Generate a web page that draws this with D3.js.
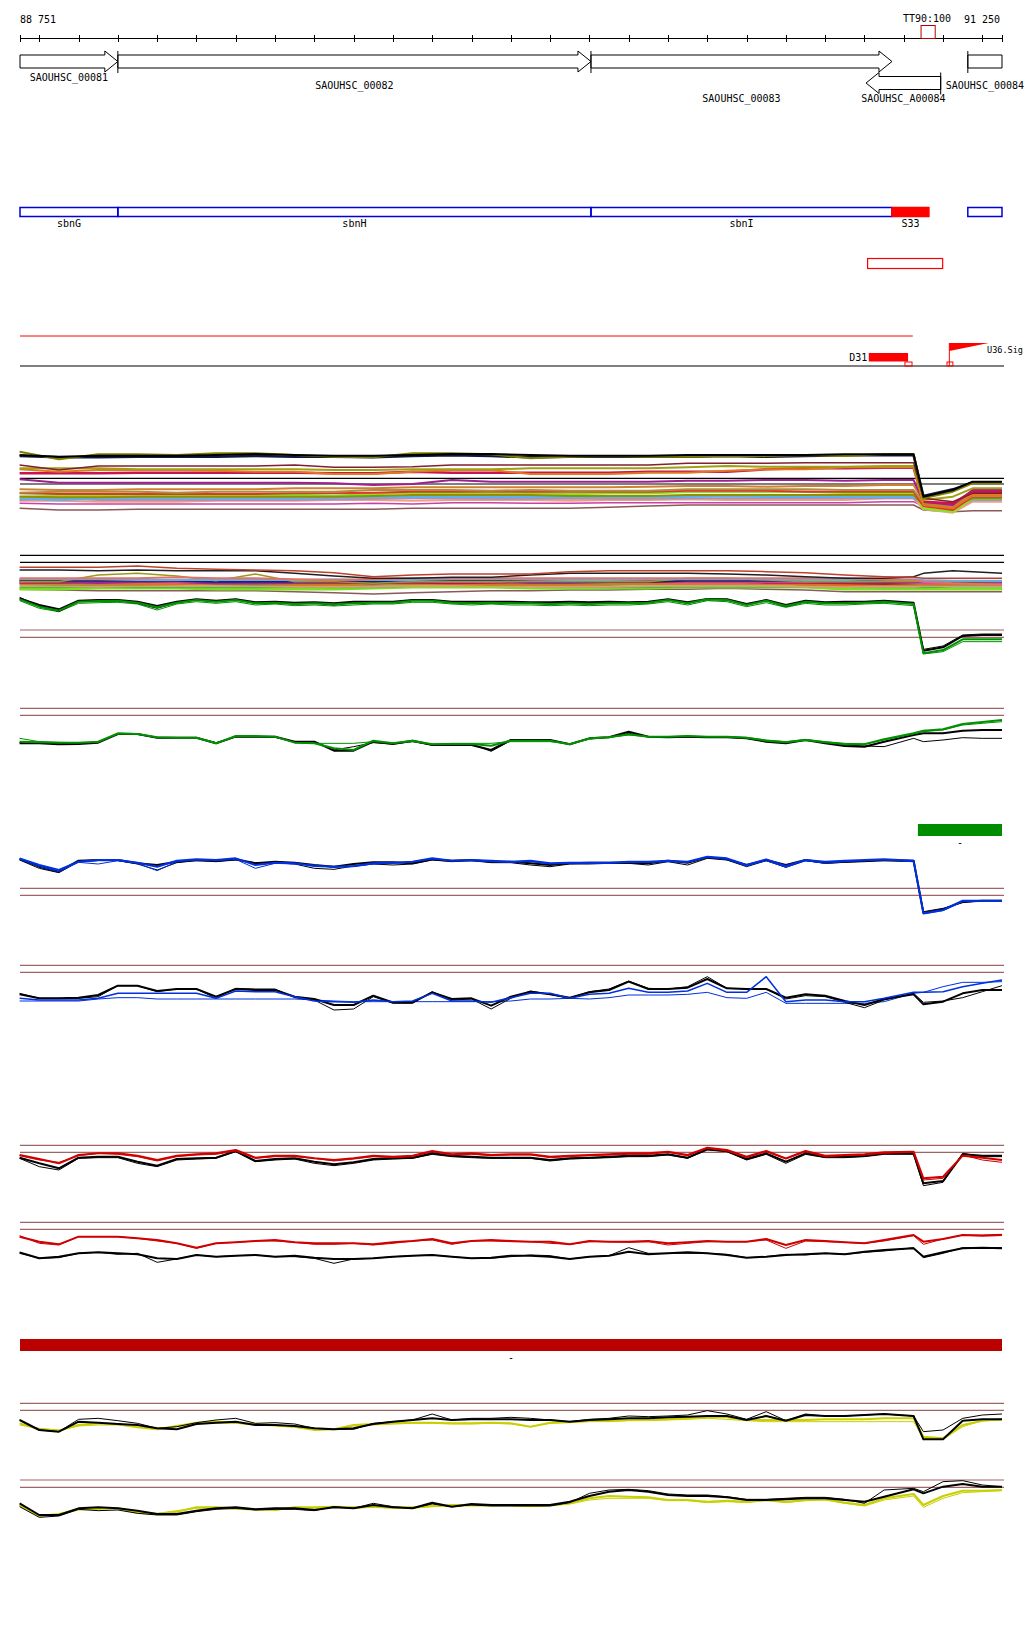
<!DOCTYPE html>
<html>
<head>
<meta charset="utf-8">
<script src="https://cdn.jsdelivr.net/npm/d3@7"></script>
<style>
body { margin: 0; background: #fff; }
svg { display: block; font-family: "DejaVu Sans Mono", monospace; font-size: 10px; }
</style>
</head>
<body>
<svg id="chart" width="1024" height="1640"></svg>
<script>
/* view */
var viewStart = 88751, viewEnd = 91250;
var rulerTicks = [88751, 88800, 88900, 89000, 89100, 89200, 89300, 89400, 89500, 89600, 89700, 89800, 89900,
  90000, 90100, 90200, 90300, 90400, 90500, 90600, 90700, 90800, 90900, 91000, 91100, 91200, 91250];
var rulerLabels = ['88 751', '91 250'];
var markerName = 'TT90:100', markerStart = 91044, markerEnd = 91080;

/* genes */
var geneNames = ['SAOUHSC_00081', 'SAOUHSC_00082', 'SAOUHSC_00083', 'SAOUHSC_A00084', 'SAOUHSC_00084'];
var geneStart = [88700, 89000, 90204, 90904, 91163];
var geneEnd = [89000, 90204, 90970, 91094, 91400];
var geneStrand = [1, 1, 1, -1, 1];
var geneLane = [0, 0, 0, 1, 0];
var geneLabelRow = [0, 1, 2, 2, 1];

/* annotation track */
var annNames = ['sbnG', 'sbnH', 'sbnI', 'S33', ''];
var annStart = [88700, 89000, 90204, 90970, 91163];
var annEnd = [89000, 90204, 90970, 91064, 91400];
var annKind = ['cds', 'cds', 'cds', 'srna', 'cds'];
var regionStart = 90908, regionEnd = 91099;
var segStart = 88751, segEnd = 91023;
var featNames = ['D31', 'U36.Sig'];
var featStart = [90911, 91116];
var featEnd = [91011, 91216];
var featKind = ['block', 'flag'];
var siteStart = [91003, 91110];
var siteEnd = [91021, 91125];

/* bars */
var greenBarStart = 91036, greenBarEnd = 91250;
var redBarStart = 88751, redBarEnd = 91250;

/* sample positions */
var posFine = d3.range(88750, 90951, 50).concat([91025], d3.range(91050, 91251, 50));
var posCoarse = [88750, 88850, 88950, 89050, 89150, 89250, 89350, 89450, 89550, 89650, 89750, 89850, 89950,
  90050, 90150, 90250, 90350, 90450, 90550, 90650, 90750, 90850, 90950, 91025, 91050, 91125, 91175, 91250];

/* panel A: many conditions */
var aRef = [11.5, 9.8];
var a01 = [18.5,18.0,18.3,18.3,18.3,18.5,18.8,18.5,18.3,18.3,18.5,18.8,18.8,18.5,18.3,18.3,18.3,18.5,18.5,18.5,18.5,18.7,18.7,18.7,6.0,8.0,10.5,10.5];
var a02 = [19.5,17.2,18.7,18.7,18.5,19.0,19.0,18.5,18.0,17.8,19.0,19.0,18.7,17.5,18.0,18.2,18.0,18.0,18.2,18.2,18.5,18.2,18.8,18.8,5.5,7.5,10.0,10.0];
var a03 = [18.2,17.8,17.8,18.0,18.0,18.0,18.2,18.0,18.0,17.8,18.2,18.4,18.2,17.8,18.0,18.0,18.0,18.0,18.2,18.0,18.2,18.4,18.4,18.4,6.2,8.2,10.2,10.2];
var a04 = [15.5,14.0,15.2,15.2,15.2,15.2,15.2,15.5,14.8,14.8,15.0,15.5,15.5,15.5,15.5,15.5,15.5,16.0,16.0,16.0,16.2,16.2,16.2,16.2,5.5,4.5,7.0,7.0];
var a05 = [13.0,13.0,13.0,13.2,13.2,13.2,13.2,13.2,13.0,13.0,13.5,13.2,13.2,13.2,13.2,13.2,13.5,13.5,13.5,14.2,14.5,14.5,14.7,14.7,4.5,4.0,7.5,7.5];
var a06 = [14.2,13.5,14.0,14.0,14.0,13.8,13.5,13.5,12.8,12.8,13.5,14.0,14.0,12.8,12.8,12.8,13.2,13.2,13.8,14.2,14.2,14.8,14.8,14.8,3.5,2.5,6.5,6.5];
var a07 = [14.5,14.5,14.5,14.2,14.2,14.2,14.2,14.2,14.0,14.0,14.2,14.2,14.2,14.5,14.5,14.5,14.5,14.8,15.2,15.0,15.0,15.0,15.2,15.2,5.0,6.0,8.5,8.5];
var a08 = [11.2,10.2,10.2,10.2,10.2,10.2,10.2,10.2,10.0,9.5,9.8,11.0,10.5,10.5,10.5,10.5,10.5,10.8,10.8,11.0,11.0,10.8,11.0,11.0,4.5,3.5,8.0,8.0];
var a09 = [8.2,8.0,8.0,8.2,8.2,8.2,8.2,8.5,8.5,8.5,8.8,8.8,8.8,8.8,8.8,8.8,9.0,9.2,9.2,9.0,9.2,9.2,9.5,9.5,4.5,3.0,7.0,7.0];
var a10 = [6.0,6.2,6.2,6.5,6.5,6.2,6.5,6.5,6.2,6.8,7.2,7.0,6.8,7.0,6.8,7.0,7.0,7.5,7.5,7.5,7.5,7.2,7.2,7.2,2.5,1.5,5.5,5.5];
var a11 = [5.5,5.0,5.5,5.5,5.5,5.5,5.5,5.5,5.7,6.0,6.0,6.0,6.0,6.0,6.0,6.0,6.0,6.0,6.2,6.0,6.0,6.0,6.0,6.0,4.0,3.5,5.2,5.2];
var a12 = [4.8,4.8,4.5,4.5,4.5,4.8,4.8,4.8,5.0,5.0,4.8,5.0,5.0,5.0,4.8,5.0,5.0,5.2,5.0,5.0,5.0,5.0,5.5,5.5,2.2,1.2,4.5,4.5];
var a13 = [4.0,3.8,3.8,3.8,3.8,3.8,3.8,3.8,3.8,4.0,3.8,4.2,4.2,4.0,4.0,4.2,4.2,4.2,4.2,4.2,4.2,4.2,4.5,4.5,3.0,2.5,4.8,4.8];
var a14 = [2.5,2.0,2.0,2.2,2.2,2.2,2.2,2.2,2.2,2.2,2.5,2.5,2.5,2.5,2.5,2.8,3.2,3.5,3.5,3.5,3.5,3.5,3.5,3.5,2.0,1.5,1.8,1.8];
var a15 = [7.2,7.5,7.5,7.5,7.2,7.5,7.5,7.5,7.5,8.0,8.0,8.0,7.8,8.0,7.8,7.8,7.8,8.2,8.2,8.2,8.2,8.0,8.0,8.0,4.0,2.8,6.2,6.2];
var a16 = [5.0,5.5,5.0,5.0,5.0,5.0,5.0,5.0,5.2,5.4,5.5,5.5,5.4,5.4,5.4,5.4,5.4,5.5,5.5,5.5,5.5,5.5,5.5,5.5,3.5,2.0,5.0,5.0];
var a17 = [7.0,6.8,6.8,6.8,6.8,6.8,6.8,7.0,7.0,7.2,7.5,7.5,7.5,7.5,7.5,7.5,7.5,7.8,7.8,7.8,7.5,7.5,7.5,7.5,3.2,2.0,6.0,6.0];
var a18 = [6.0,5.8,5.8,6.0,6.0,6.0,6.0,6.0,6.0,6.2,6.5,6.5,6.5,6.5,6.2,6.2,6.2,6.5,6.5,6.5,6.5,6.5,6.5,6.5,3.5,3.0,5.5,5.5];

/* panel B: many conditions + growth pair */
var bTopRef = [30.4, 28.3];
var bRef = [8.0, 5.8];
var b01 = [26.8,26.8,26.8,27.2,26.5,26.2,26.0,25.8,25.2,24.0,24.5,24.8,24.8,24.8,25.5,25.8,25.8,25.8,25.8,25.5,25.2,24.5,24.0,23.8,23.5,23.5,23.5,23.5];
var b02 = [26.0,26.0,25.8,26.0,25.8,25.8,25.8,25.0,24.2,23.5,23.5,23.8,23.8,24.5,25.0,25.0,25.0,25.0,24.8,24.5,24.0,23.5,23.5,24.0,25.0,25.8,25.5,25.0];
var b03 = [22.5,22.5,24.5,25.0,24.2,22.8,24.8,22.5,22.5,22.0,22.5,22.5,22.5,22.5,22.5,22.5,22.5,23.5,23.5,23.0,22.5,22.5,22.5,22.5,22.5,22.5,22.5,22.5];
var b04 = [22.8,22.5,22.2,22.5,22.5,22.0,22.0,22.2,22.5,22.0,22.5,22.8,22.5,22.2,22.2,22.5,22.5,22.5,22.5,22.5,22.8,22.5,22.5,22.5,22.5,22.5,22.5,22.5];
var b05 = [22.0,22.2,22.0,21.8,21.8,22.2,22.2,21.8,21.8,22.2,22.0,22.0,21.8,21.8,21.8,22.0,22.0,22.0,22.2,22.0,21.8,21.5,22.0,22.0,21.8,21.8,22.0,22.0];
var b06 = [23.2,23.2,23.2,23.0,23.0,23.0,23.0,23.0,23.2,23.0,23.0,23.2,23.2,23.2,23.0,23.0,23.2,23.2,23.2,23.2,23.0,23.0,23.2,23.2,23.0,22.8,22.8,22.8];
var b07 = [20.2,20.2,20.5,20.5,20.5,20.2,20.2,20.2,20.2,20.5,20.8,20.8,20.8,20.5,20.5,20.5,20.5,20.8,20.8,20.8,20.8,20.2,20.2,20.2,20.2,20.2,20.2,20.2];
var b08 = [20.2,20.0,19.8,19.8,19.8,19.8,19.8,19.5,19.2,18.8,19.2,19.5,19.8,19.8,20.0,20.0,20.2,20.2,20.5,20.2,20.0,19.5,19.5,19.5,19.5,19.5,19.5,19.5];
var b09 = [21.2,21.2,21.0,21.2,21.2,21.2,21.2,21.0,21.0,21.0,21.2,21.2,21.2,21.0,21.0,21.0,21.2,21.2,21.2,21.2,21.0,21.0,21.0,21.0,21.2,21.2,21.2,21.2];
var b10 = [22.2,22.2,22.5,22.5,22.5,22.5,22.5,22.2,22.2,22.2,22.2,22.0,22.2,22.5,22.5,22.5,22.5,22.5,22.5,22.2,22.2,22.0,21.8,22.0,22.2,22.2,22.2,22.2];
var b11 = [20.8,20.8,21.0,20.8,20.8,20.8,20.8,21.0,20.8,20.8,21.2,21.2,21.2,21.2,21.0,20.8,20.8,21.0,21.0,21.0,21.0,21.0,20.8,20.8,20.8,21.0,21.0,21.0];
var b12 = [22.5,22.8,22.8,22.8,22.5,22.8,22.5,22.5,22.8,22.8,22.8,22.5,22.5,22.8,22.8,22.8,22.8,22.5,22.5,22.5,22.5,22.8,22.5,22.2,22.0,22.0,22.0,22.0];
var b13 = [23.0,22.8,22.8,22.8,22.8,22.5,22.5,22.5,22.5,22.5,23.0,22.8,22.8,22.5,22.5,22.5,22.5,22.8,22.8,22.8,22.8,22.8,22.5,22.5,22.5,22.5,22.5,22.5];
var b14 = [21.8,21.5,21.5,21.5,21.8,21.8,21.5,21.5,21.5,21.5,21.8,21.8,21.5,21.5,21.5,21.5,21.8,21.8,21.8,21.8,21.5,21.5,21.5,21.5,21.5,21.5,21.5,21.5];
var b15 = [23.5,23.5,23.5,23.5,23.8,23.5,23.5,23.2,23.0,23.2,23.5,23.5,23.5,23.5,23.5,23.5,23.5,23.5,23.5,23.5,23.5,23.5,23.2,23.0,22.5,22.0,21.8,21.5];
var bGreen1 = [17.2,15.0,13.8,16.5,16.7,16.8,16.2,14.8,16.2,17.0,16.5,17.0,16.0,16.2,15.8,16.0,15.7,16.0,16.2,16.2,
  16.8,16.8,16.2,16.0,16.2,16.0,16.0,15.8,16.0,15.8,16.0,16.0,16.2,17.0,16.0,17.2,17.0,15.5,16.8,15.2,
  16.5,16.0,16.0,16.2,16.5,15.8,1.0,2.0,5.2,5.2,5.2];
var bGreen2 = [16.8,14.5,13.5,16.0,16.2,16.3,15.8,14.0,15.8,16.5,16.0,16.5,15.5,15.8,15.3,15.5,15.2,15.5,15.8,15.8,
  16.3,16.3,15.8,15.5,15.8,15.5,15.5,15.3,15.5,15.3,15.5,15.5,15.8,16.5,15.5,16.8,16.5,15.0,16.2,14.8,
  16.0,15.5,15.5,15.8,16.0,15.3,0.8,1.5,4.5,4.5,4.5];
var bBlack1 = [17.5,15.5,14.2,16.8,17.0,17.0,16.5,15.2,16.5,17.2,16.8,17.2,16.3,16.5,16.2,16.3,16.0,16.5,16.5,16.5,
  17.0,17.0,16.5,16.5,16.5,16.5,16.3,16.3,16.5,16.3,16.5,16.3,16.5,17.2,16.3,17.3,17.2,15.8,17.0,15.5,
  16.8,16.3,16.5,16.5,16.8,16.2,1.8,2.8,6.2,6.5,6.5];
var bBlack2 = [17.8,15.2,13.5,16.5,16.8,16.8,16.0,14.5,16.2,17.0,16.5,17.2,16.0,16.2,15.8,16.0,15.5,16.2,16.3,16.2,
  17.0,16.8,16.2,16.2,16.3,16.0,16.0,15.8,16.0,15.8,16.2,16.0,16.2,17.2,16.0,17.3,17.0,15.5,16.8,15.0,
  16.5,16.0,16.2,16.3,16.5,16.0,2.2,3.2,6.5,6.8,6.8];

/* panel C */
var cRef = [13.5, 11.4];
var cGreen1 = [3.5,3.3,3.2,3.2,3.5,6.0,5.8,4.8,4.7,4.7,3.0,5.2,5.2,5.0,3.2,3.0,1.5,1.0,3.8,3.0,
  3.8,2.7,2.8,2.8,2.3,3.8,3.8,3.8,2.7,4.5,4.8,5.7,5.0,5.0,5.2,5.0,5.0,4.7,3.8,3.3,
  4.0,3.3,2.7,2.7,4.2,6.0,6.8,7.2,8.8,9.4,10.0];
var cGreen2 = [4.5,3.5,3.3,3.2,3.3,5.8,5.8,4.8,4.7,4.7,3.2,5.0,5.0,5.0,3.2,3.0,3.0,3.0,3.5,3.2,
  3.5,2.8,3.0,3.0,3.0,3.5,3.5,3.5,2.8,4.2,4.8,5.5,5.0,5.0,5.2,5.0,5.0,4.8,4.0,3.5,
  4.2,3.5,3.0,2.8,4.0,5.8,6.5,7.0,8.5,9.0,9.5];
var cBlack1 = [3.0,3.0,2.7,2.8,3.2,5.8,5.8,4.7,4.7,4.7,3.0,5.0,5.0,5.0,3.5,3.5,0.8,0.8,3.5,2.8,
  3.8,2.5,2.5,2.5,1.0,4.0,4.0,4.0,2.7,4.5,4.8,6.5,5.0,4.8,5.0,4.8,4.8,4.5,3.5,3.0,
  4.0,3.0,2.2,2.0,3.5,5.5,6.0,6.0,6.8,7.0,7.0];
var cBlack2 = [3.2,3.2,3.0,3.0,3.3,5.8,5.7,4.7,4.7,4.7,3.2,5.0,5.0,4.8,3.5,3.5,1.0,2.0,3.2,2.8,
  3.5,2.5,2.5,2.8,0.6,3.8,4.0,3.8,2.8,4.5,4.8,6.0,5.0,4.8,5.0,4.8,4.8,4.5,3.5,3.2,
  4.0,3.2,2.5,2.2,2.0,4.5,3.5,4.0,4.7,4.5,4.5];

/* panel D */
var dRef = [8.5, 6.4];
var dBlue1 = [17.5,15.5,14.0,16.5,17.0,17.0,16.2,15.0,16.8,17.2,17.0,17.5,15.5,16.2,16.0,15.2,15.0,15.2,16.0,16.2,
  16.5,17.5,16.8,17.0,16.8,16.5,16.8,16.0,16.2,16.2,16.2,16.5,16.5,16.8,16.5,18.0,17.5,15.5,17.2,15.2,
  17.0,16.5,16.8,17.0,17.2,16.8,1.0,2.0,4.8,4.8,4.8];
var dBlue2 = [17.2,15.0,13.5,16.3,15.8,16.8,16.0,13.8,16.5,17.0,16.8,17.2,14.5,16.0,15.8,15.5,14.8,15.0,15.8,16.0,
  16.5,17.3,16.8,16.8,16.5,16.3,16.5,15.8,16.0,16.0,16.0,16.3,16.3,16.5,16.3,17.8,17.2,15.2,16.8,14.8,
  16.8,16.0,16.5,16.8,17.0,16.5,0.8,1.8,4.5,4.8,4.8];
var dBlack1 = [17.3,15.0,13.5,16.8,17.0,17.0,16.0,15.5,16.5,17.0,16.8,17.2,16.0,16.5,16.2,15.5,15.0,15.8,16.3,16.3,
  16.0,17.2,16.8,17.0,16.5,16.5,16.0,15.5,16.0,16.2,16.2,16.2,16.0,16.8,16.2,17.8,17.2,15.5,17.0,15.5,
  17.0,16.2,16.5,16.8,17.0,16.8,1.2,2.2,4.5,4.8,4.8];
var dBlack2 = [17.0,14.5,13.2,16.5,16.8,16.8,15.8,14.0,16.2,16.8,16.5,17.0,16.2,16.2,15.8,14.5,14.2,15.2,15.8,15.5,
  15.8,17.0,16.5,16.8,16.2,16.2,15.5,15.0,15.8,15.8,16.0,16.0,15.5,16.5,15.5,17.5,17.0,15.0,16.8,14.8,
  16.8,16.0,16.3,16.5,16.8,16.5,1.5,2.5,4.2,4.8,4.8];

/* panel E */
var eRef = [14.9, 12.8];
var eBlack1 = [6.2,5.0,5.0,5.2,6.0,8.8,8.8,7.2,7.8,7.8,5.5,7.8,7.5,7.5,5.5,4.8,3.0,3.0,5.8,3.8,
  3.8,6.8,4.8,5.0,2.8,5.5,7.0,6.2,5.2,6.8,7.5,10.0,7.8,7.8,8.2,10.8,8.0,7.8,7.8,5.2,
  6.2,5.8,4.2,3.0,4.8,6.2,3.2,4.0,6.5,7.5,7.5];
var eBlack2 = [6.5,5.0,5.0,5.0,5.5,8.8,8.8,7.0,7.8,7.8,5.0,8.0,7.8,7.8,5.2,4.5,1.5,1.8,5.5,3.5,
  3.5,7.0,4.5,4.8,1.8,5.0,7.2,6.2,5.0,7.0,7.8,10.2,8.0,7.8,8.5,11.5,8.0,7.8,7.8,4.8,
  5.8,5.5,3.8,2.2,4.5,6.5,3.8,4.2,5.2,7.0,8.8];
var eBlue1 = [5.0,4.5,4.5,4.5,5.0,6.5,6.5,6.5,6.5,6.5,5.0,7.2,7.0,7.0,5.5,4.2,4.0,3.8,4.5,4.0,
  4.2,6.5,4.2,4.2,3.8,5.2,6.5,6.5,5.0,6.2,6.5,8.0,6.8,6.8,7.2,9.5,6.8,6.8,11.5,4.0,
  4.5,4.5,4.0,4.0,5.0,6.8,6.8,7.0,8.5,9.5,10.5];
var eBlue2 = [4.2,4.2,4.2,4.2,4.8,5.2,5.2,4.8,4.8,4.8,4.8,4.8,4.8,4.8,4.8,4.5,4.2,4.0,4.0,4.0,
  4.0,4.0,4.0,4.0,4.0,4.2,4.8,4.8,5.0,4.8,5.2,6.0,6.0,6.0,6.2,6.8,5.2,5.0,6.8,3.5,
  3.5,3.5,3.5,3.5,4.0,6.5,6.8,8.5,9.8,9.8,10.0];

/* panel F */
var fRef = [12.9, 10.8];
var fRed1 = [10.0,8.8,7.5,10.0,10.5,10.5,9.8,8.5,9.8,10.2,10.5,11.5,9.2,9.8,9.8,9.0,8.5,9.0,9.8,9.5,
  9.8,11.2,10.2,10.5,10.0,10.2,10.2,9.5,9.8,10.0,10.2,10.5,10.5,11.0,10.0,12.2,11.5,9.5,11.2,9.0,
  11.2,9.8,10.0,10.2,10.8,11.0,3.0,3.5,9.8,9.2,8.5];
var fRed2 = [9.8,8.5,7.8,9.8,10.5,10.2,9.5,8.2,9.5,10.0,10.2,11.2,9.0,9.5,9.5,9.0,8.2,8.8,9.5,9.2,
  9.5,11.0,10.0,10.2,9.8,10.0,10.0,9.2,9.5,9.8,10.0,10.2,10.2,10.8,9.8,12.0,11.2,9.2,11.0,8.8,
  11.0,9.5,9.8,10.0,10.5,10.8,2.5,3.0,10.0,8.5,7.8];
var fBlack1 = [9.2,7.5,6.0,9.2,9.5,9.5,8.0,6.8,8.8,9.0,9.2,11.2,8.2,8.8,9.0,8.0,7.2,7.8,8.8,9.0,
  9.2,10.5,9.8,9.5,9.2,9.2,9.2,8.5,9.0,9.2,9.5,9.8,9.8,10.2,9.2,11.8,11.2,8.8,10.5,8.0,
  10.5,9.5,9.5,9.8,10.5,10.5,1.5,2.2,10.2,9.8,9.8];
var fBlack2 = [9.0,6.5,5.5,9.0,9.2,9.2,7.5,6.5,8.5,8.8,9.0,11.0,8.0,8.5,8.8,7.5,6.8,7.5,8.5,8.8,
  9.0,10.2,9.5,9.2,9.0,9.0,9.0,8.2,8.8,9.0,9.2,9.5,9.5,10.0,9.0,11.5,11.0,8.5,10.2,7.5,
  10.2,9.2,9.2,9.5,10.2,10.2,0.8,1.8,10.5,9.5,9.5];

/* panel G */
var gRef = [13.8, 11.7];
var gRed1 = [9.5,8.0,7.2,9.5,9.5,9.5,9.0,8.5,7.5,6.2,7.5,7.8,8.2,8.5,7.8,7.5,7.5,7.5,7.2,7.8,
  8.2,8.8,7.5,8.2,8.5,8.2,8.0,8.0,7.2,8.2,8.0,8.0,8.2,7.5,7.8,8.2,8.0,8.0,8.8,7.0,
  8.5,8.2,7.8,7.5,8.5,10.0,8.0,8.8,10.0,9.8,10.0];
var gRed2 = [9.8,7.5,7.0,9.5,9.5,9.5,9.0,8.2,7.5,6.0,7.5,7.8,8.2,8.2,7.8,7.2,7.2,7.5,7.0,7.5,
  8.2,8.5,7.2,8.2,8.2,8.0,8.0,7.5,7.2,8.0,8.0,7.8,8.0,7.0,7.5,8.0,8.0,8.0,8.5,6.0,
  8.2,8.0,7.8,7.5,8.2,9.8,7.2,8.8,10.0,10.0,10.2];
var gBlack1 = [4.8,3.0,3.5,4.5,4.8,4.5,4.2,3.0,2.8,4.0,3.5,3.8,4.0,3.5,3.8,3.2,2.8,2.8,3.0,3.5,
  3.8,4.0,3.5,3.0,3.2,3.8,3.8,3.5,2.8,3.5,3.8,5.0,4.2,4.5,4.8,4.5,4.0,3.2,3.5,4.0,
  4.2,4.5,4.2,5.0,5.5,6.0,3.5,4.8,6.0,6.2,6.0];
var gBlack2 = [4.5,3.0,3.2,4.5,4.8,4.2,4.5,1.8,2.8,4.0,3.5,3.8,4.0,3.5,3.5,3.0,1.5,2.8,3.0,3.5,
  3.8,4.0,3.5,3.0,3.0,3.5,4.0,3.8,2.8,3.5,3.8,6.2,4.5,4.5,4.5,4.5,4.2,3.2,3.5,4.2,
  4.0,4.5,4.2,4.8,5.2,6.2,3.2,4.5,6.2,6.2,6.2];

/* panel H */
var hRef = [12.0, 9.9];
var hBlack1 = [7.0,4.0,3.5,6.5,6.2,5.8,5.5,4.5,4.2,5.8,6.2,6.5,5.5,5.5,5.2,4.5,4.2,4.5,5.8,6.5,
  7.0,7.5,7.0,7.2,7.2,7.2,7.0,7.0,6.5,7.0,7.2,7.5,7.5,7.8,8.0,8.2,8.2,7.0,8.2,6.8,
  8.5,8.2,8.2,8.5,8.8,8.2,1.2,1.2,6.8,7.2,7.2];
var hBlack2 = [7.0,4.0,3.5,7.2,7.5,6.8,6.0,4.5,5.0,6.2,7.0,7.5,6.0,6.2,5.8,4.5,4.2,4.2,6.0,6.5,
  7.0,8.8,7.0,7.5,7.5,7.8,7.5,7.0,6.5,7.2,7.5,8.2,8.0,8.2,8.5,9.8,8.8,7.2,9.5,6.8,
  8.8,8.2,8.2,8.5,8.8,8.2,3.5,4.0,7.5,8.5,8.8];
var hYellow1 = [6.0,4.2,3.8,5.5,6.0,5.8,4.8,4.2,5.2,6.2,6.5,6.2,5.8,5.5,5.0,4.0,4.2,5.5,5.8,6.0,
  6.2,6.2,6.0,6.0,6.2,6.0,5.0,6.2,6.5,6.8,6.8,7.0,7.2,7.2,7.5,8.0,7.8,7.0,7.0,7.0,
  7.0,7.2,7.2,7.2,7.5,7.5,2.0,1.5,5.5,6.8,7.2];
var hYellow2 = [5.5,4.5,4.0,5.2,5.5,5.5,4.8,4.5,5.0,5.8,6.0,6.0,5.5,5.2,4.8,4.2,4.2,5.2,5.5,5.8,
  6.0,6.0,5.8,5.8,6.0,5.8,5.0,6.0,6.2,6.5,6.5,6.8,6.8,7.0,7.2,7.5,7.2,6.8,6.5,6.5,
  6.5,6.5,6.5,6.5,6.5,6.5,1.5,1.2,5.0,6.8,7.0];

/* panel I */
var iRef = [13.0, 10.8];
var iBlack1 = [6.0,2.5,2.5,4.5,4.8,4.5,3.8,2.8,2.8,3.8,4.5,4.8,4.2,4.5,4.5,4.0,4.8,4.5,5.5,4.8,
  4.5,6.2,5.0,5.8,5.5,5.5,5.5,5.5,6.5,8.2,9.5,10.0,9.5,8.5,8.2,8.2,7.8,7.0,7.0,7.2,
  7.5,7.5,7.0,6.5,8.0,10.2,9.0,11.0,11.8,11.0,11.0];
var iBlack2 = [5.0,1.8,2.2,4.2,3.8,4.0,3.0,2.5,2.5,3.5,4.2,4.5,4.0,4.2,4.2,3.8,5.0,4.5,6.0,5.0,
  4.5,5.8,5.0,5.5,5.2,5.2,5.2,5.2,6.2,9.0,10.0,10.2,9.8,8.8,8.5,8.5,8.0,7.2,7.2,7.5,
  7.8,7.8,7.2,6.0,10.0,10.5,9.5,12.5,12.8,11.5,11.0];
var iYellow1 = [5.5,2.2,2.8,4.2,4.5,4.5,3.2,2.8,3.5,4.8,4.8,4.5,4.2,4.0,4.8,4.8,5.0,4.8,5.0,4.8,
  4.8,5.2,5.5,5.5,5.5,5.5,5.2,5.5,6.0,7.5,8.2,8.0,7.8,7.0,7.0,6.5,6.8,6.5,7.0,6.5,
  7.0,7.2,6.2,5.5,7.5,8.8,5.5,8.2,9.8,9.8,10.0];
var iYellow2 = [5.2,2.5,2.5,4.0,4.2,4.5,3.5,3.0,3.8,4.5,4.5,4.2,4.0,4.0,4.5,4.5,4.8,4.5,4.8,4.5,
  4.5,5.0,5.2,5.2,5.2,5.2,5.0,5.2,5.8,7.0,7.5,7.5,7.5,6.8,6.8,6.2,6.5,6.2,6.8,6.2,
  6.8,7.0,6.0,5.2,7.0,8.2,4.8,7.5,9.2,9.5,9.8];

var svg = d3.select('#chart');
var x = d3.scaleLinear().domain([viewStart, viewEnd]).range([20, 1002]);
function cx(v) { return x(Math.max(viewStart, Math.min(viewEnd, v))); }

/* ruler */
svg.append('line').attr('x1', x(viewStart)).attr('x2', x(viewEnd)).attr('y1', 38.5).attr('y2', 38.5)
  .attr('stroke', '#000').attr('shape-rendering', 'crispEdges');
svg.selectAll('.rtick').data(rulerTicks).enter().append('line')
  .attr('x1', function(d) { return Math.round(x(d)) + 0.5; })
  .attr('x2', function(d) { return Math.round(x(d)) + 0.5; })
  .attr('y1', 35).attr('y2', 42).attr('stroke', '#000').attr('shape-rendering', 'crispEdges');
svg.append('text').attr('x', 20).attr('y', 23).text(rulerLabels[0]);
svg.append('text').attr('x', 1000).attr('y', 23).attr('text-anchor', 'end').text(rulerLabels[1]);
svg.append('text').attr('x', 927).attr('y', 22).attr('text-anchor', 'middle').text(markerName);
svg.append('rect').attr('x', x(markerStart)).attr('y', 25.5)
  .attr('width', x(markerEnd) - x(markerStart)).attr('height', 13)
  .attr('fill', 'none').attr('stroke', '#b00000');

/* genes */
var laneY = [61.5, 83], labelY = [81, 89, 101.5];
function genePath(s, e, strand, cy) {
  var x0 = cx(s), x1 = cx(e), h = 6.5, hh = 10.5, hl = 13;
  if (strand > 0 && e <= viewEnd) {
    return 'M' + x0 + ',' + (cy - h) + 'H' + (x1 - hl) + 'V' + (cy - hh) + 'L' + x1 + ',' + cy +
      'L' + (x1 - hl) + ',' + (cy + hh) + 'V' + (cy + h) + 'H' + x0 + 'Z';
  }
  if (strand < 0 && s >= viewStart) {
    return 'M' + x1 + ',' + (cy - h) + 'H' + (x0 + hl) + 'V' + (cy - hh) + 'L' + x0 + ',' + cy +
      'L' + (x0 + hl) + ',' + (cy + hh) + 'V' + (cy + h) + 'H' + x1 + 'Z';
  }
  return 'M' + x0 + ',' + (cy - h) + 'H' + x1 + 'V' + (cy + h) + 'H' + x0 + 'Z';
}
var genes = geneNames.map(function(n, i) {
  return { name: n, s: geneStart[i], e: geneEnd[i], strand: geneStrand[i], lane: geneLane[i], row: geneLabelRow[i] };
});
var gg = svg.append('g');
gg.selectAll('path').data(genes).enter().append('path')
  .attr('d', function(d) { return genePath(d.s, d.e, d.strand, laneY[d.lane]); })
  .attr('fill', '#fff').attr('stroke', '#000').attr('stroke-width', 1);
genes.forEach(function(d) {
  var bx = d.strand > 0 ? d.s : d.e;
  if (bx >= viewStart && bx <= viewEnd) {
    var cy = laneY[d.lane];
    gg.append('line').attr('x1', x(bx)).attr('x2', x(bx)).attr('y1', cy - 10.5).attr('y2', cy + 11.5)
      .attr('stroke', '#000');
  }
});
gg.selectAll('text').data(genes).enter().append('text')
  .attr('x', function(d) { return (cx(d.s) + cx(d.e)) / 2; })
  .attr('y', function(d) { return labelY[d.row]; })
  .attr('text-anchor', 'middle').text(function(d) { return d.name; });

/* annotation track */
var ag = svg.append('g');
annNames.forEach(function(n, i) {
  var x0 = cx(annStart[i]), x1 = cx(annEnd[i]);
  var srna = annKind[i] === 'srna';
  ag.append('rect').attr('x', x0).attr('y', 207.5).attr('width', x1 - x0).attr('height', 9)
    .attr('fill', srna ? '#ff0000' : 'none').attr('stroke', srna ? '#ff0000' : '#0000dd')
    .attr('stroke-width', 1.5);
  if (n) {
    ag.append('text').attr('x', (x0 + x1) / 2).attr('y', 227).attr('text-anchor', 'middle').text(n);
  }
});
ag.append('rect').attr('x', x(regionStart)).attr('y', 258.5)
  .attr('width', x(regionEnd) - x(regionStart)).attr('height', 10)
  .attr('fill', 'none').attr('stroke', '#ff0000').attr('stroke-width', 1.2);
ag.append('line').attr('x1', x(segStart)).attr('x2', x(segEnd)).attr('y1', 336).attr('y2', 336)
  .attr('stroke', '#ff0000').attr('stroke-width', 1);
ag.append('line').attr('x1', 20).attr('x2', 1004).attr('y1', 366).attr('y2', 366)
  .attr('stroke', '#000').attr('stroke-width', 1.2);
featNames.forEach(function(n, i) {
  var x0 = x(featStart[i]), x1 = x(featEnd[i]);
  if (featKind[i] === 'block') {
    ag.append('rect').attr('x', x0).attr('y', 353).attr('width', x1 - x0).attr('height', 8.5).attr('fill', '#ff0000');
    ag.append('text').attr('x', x0 - 1.5).attr('y', 361).attr('text-anchor', 'end').text(n);
  } else {
    ag.append('line').attr('x1', x0).attr('x2', x0).attr('y1', 343).attr('y2', 366).attr('stroke', '#ff0000');
    ag.append('path').attr('d', 'M' + x0 + ',343L' + x1 + ',343L' + x0 + ',351Z').attr('fill', '#ff0000');
    ag.append('text').attr('x', 1023).attr('y', 353).attr('text-anchor', 'end')
      .attr('font-size', 9).attr('textLength', 36).attr('lengthAdjust', 'spacingAndGlyphs').text(n);
  }
});
siteStart.forEach(function(s, i) {
  ag.append('rect').attr('x', x(s)).attr('y', 362).attr('width', x(siteEnd[i]) - x(s)).attr('height', 4)
    .attr('fill', 'none').attr('stroke', '#ff0000');
});

/* line panels */
var refColor = '#a06464';
function panelScale(zeroPx) {
  return d3.scaleLinear().domain([0, 10]).range([zeroPx, zeroPx - 33.33]);
}
function drawPanel(pos, y, refs, refCol, series) {
  var g = svg.append('g');
  var line = d3.line().x(function(d, i) { return x(pos[i]); }).y(function(d) { return y(d); });
  refs.forEach(function(v) {
    g.append('line').attr('x1', 20).attr('x2', 1004).attr('y1', y(v)).attr('y2', y(v))
      .attr('stroke', refCol).attr('stroke-width', 1.2);
  });
  series.forEach(function(s) {
    g.append('path').datum(s[0]).attr('d', line).attr('fill', 'none')
      .attr('stroke', s[1]).attr('stroke-width', s[2]).attr('stroke-linejoin', 'round');
  });
  return g;
}

var yA = panelScale(516.67);
drawPanel(posCoarse, yA, aRef, '#000', [
  [a14, '#8a5858', 1.5], [a13, '#c840a8', 1.5], [a12, '#f0a080', 2], [a16, '#b090b0', 2],
  [a11, '#60b0f0', 2.5], [a10, '#80e820', 2.5], [a18, '#909000', 2], [a17, '#e83030', 2],
  [a15, '#a89040', 2], [a09, '#d08030', 2], [a08, '#a02090', 2], [a05, '#c81450', 2.5],
  [a06, '#e07820', 2], [a07, '#a0a010', 2], [a04, '#802030', 1.5],
  [a03, '#0a1a40', 2.5], [a02, '#808000', 2], [a01, '#000000', 2]
]);

var yB = panelScale(656.67);
drawPanel(posCoarse, yB, bTopRef, '#000', [
  [b08, '#8a5a5a', 1.5], [b07, '#80e020', 2.5], [b11, '#40c040', 2], [b09, '#d8a070', 2],
  [b14, '#b09040', 2], [b05, '#e07020', 2.5], [b10, '#c0143c', 2], [b04, '#9c2890', 2.5],
  [b12, '#e040c0', 2], [b13, '#202060', 2], [b03, '#9a9a20', 1.5], [b06, '#60b0f0', 2],
  [b15, '#e87060', 2], [b02, '#202020', 1.5], [b01, '#c04030', 1.5]
]);
drawPanel(posFine, yB, bRef, refColor, [
  [bGreen2, '#009000', 1], [bBlack2, '#000', 1], [bBlack1, '#000', 2], [bGreen1, '#009000', 2]
]);

drawPanel(posFine, panelScale(753.33), cRef, refColor, [
  [cBlack2, '#000', 1], [cBlack1, '#000', 2], [cGreen2, '#009000', 1], [cGreen1, '#009000', 2]
]);

var yD = panelScale(916.67);
drawPanel(posFine, yD, dRef, refColor, [
  [dBlack2, '#000', 1], [dBlack1, '#000', 2], [dBlue2, '#0030e0', 1], [dBlue1, '#0030e0', 2]
]);
svg.append('rect').attr('x', x(greenBarStart)).attr('y', 824)
  .attr('width', x(greenBarEnd) - x(greenBarStart)).attr('height', 12).attr('fill', '#008c00');
svg.append('text').attr('x', (x(greenBarStart) + x(greenBarEnd)) / 2).attr('y', 846)
  .attr('text-anchor', 'middle').text('-');

drawPanel(posFine, panelScale(1015), eRef, refColor, [
  [eBlue2, '#0030e0', 1], [eBlack2, '#000', 1], [eBlack1, '#000', 2], [eBlue1, '#0030e0', 1.5]
]);

drawPanel(posFine, panelScale(1188.33), fRef, refColor, [
  [fBlack2, '#000', 1], [fBlack1, '#000', 2], [fRed2, '#d00000', 1], [fRed1, '#d00000', 2]
]);
drawPanel(posFine, panelScale(1268.33), gRef, refColor, [
  [gBlack2, '#000', 1], [gBlack1, '#000', 2], [gRed2, '#d00000', 1], [gRed1, '#d00000', 2]
]);

svg.append('rect').attr('x', x(redBarStart)).attr('y', 1339)
  .attr('width', x(redBarEnd) - x(redBarStart)).attr('height', 12).attr('fill', '#bb0000');
svg.append('text').attr('x', (x(redBarStart) + x(redBarEnd)) / 2).attr('y', 1361)
  .attr('text-anchor', 'middle').text('-');

drawPanel(posFine, panelScale(1443.33), hRef, refColor, [
  [hYellow2, '#c8d000', 1], [hYellow1, '#c8d000', 2], [hBlack2, '#000', 1], [hBlack1, '#000', 2]
]);
drawPanel(posFine, panelScale(1523.33), iRef, refColor, [
  [iYellow2, '#c8d000', 1], [iYellow1, '#c8d000', 2], [iBlack2, '#000', 1], [iBlack1, '#000', 2]
]);
</script>
</body>
</html>
